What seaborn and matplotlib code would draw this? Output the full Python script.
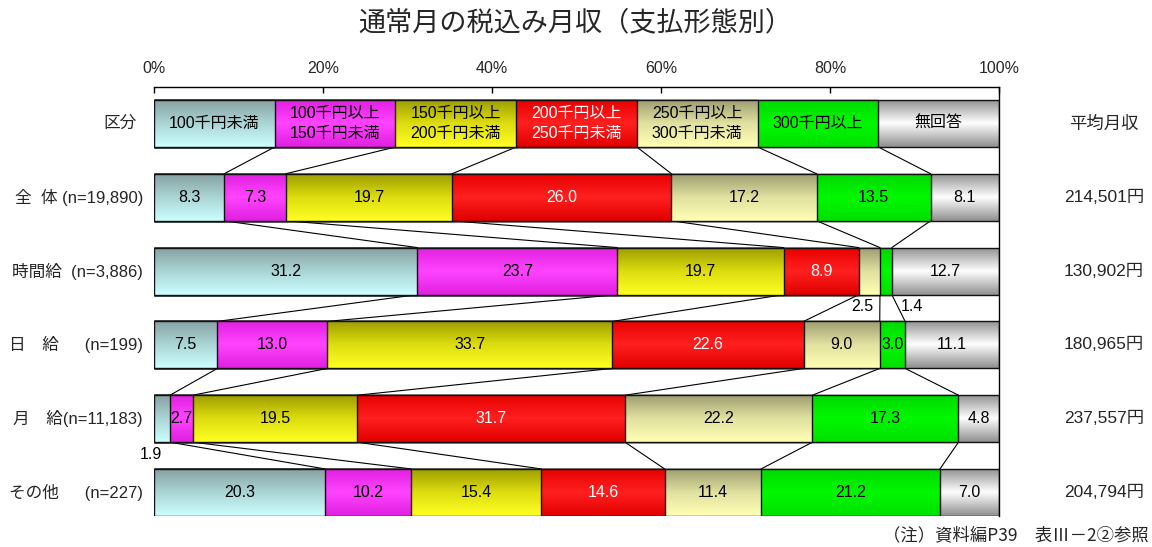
import matplotlib.pyplot as plt
import seaborn as sns
import numpy as np
import pandas as pd
from matplotlib.colors import LinearSegmentedColormap

# --- datos ---
categories = ['100千円未満', '100千円以上\n150千円未満', '150千円以上\n200千円未満',
              '200千円以上\n250千円未満', '250千円以上\n300千円未満', '300千円以上', '無回答']
groups = ['全  体 (n=19,890)', '時間給  (n=3,886)', '日　給　  (n=199)',
          '月　給(n=11,183)', 'その他　  (n=227)']
v_all = [8.3, 7.3, 19.7, 26.0, 17.2, 13.5, 8.1]
v_hourly = [31.2, 23.7, 19.7, 8.9, 2.5, 1.4, 12.7]
v_daily = [7.5, 13.0, 33.7, 22.6, 9.0, 3.0, 11.1]
v_monthly = [1.9, 2.7, 19.5, 31.7, 22.2, 17.3, 4.8]
v_other = [20.3, 10.2, 15.4, 14.6, 11.4, 21.2, 7.0]
avg_income = ['214,501円', '130,902円', '180,965円', '237,557円', '204,794円']
x_ticks = [0, 20, 40, 60, 80, 100]

# gradientes (arriba -> abajo) de cada categoría
gradients = [
    ['#86a0a0', '#aad4d4', '#ccffff'],
    ['#e020e0', '#ff44ff', '#e020e0'],
    ['#9c9c00', '#dcdc10', '#ffff22'],
    ['#e80000', '#ff2020', '#e00000'],
    ['#9c9c70', '#e0e0a0', '#ffffb4'],
    ['#00d800', '#00f800', '#00e000'],
    ['#909090', '#ffffff', '#909090'],
]
label_colors = ['black', 'black', 'black', 'white', 'black', 'black', 'black']

# etiquetas fuera de la barra: (fila, segmento) -> desplazamiento x en %
outside = {(2, 4): -0.8, (2, 5): 3.1, (4, 0): -1.3}

sns.set_style('white')
plt.rcParams['font.family'] = ['Liberation Sans', 'Noto Sans CJK JP', 'DejaVu Sans']

rows = ['区分'] + groups
values = np.array([v_all, v_hourly, v_daily, v_monthly, v_other])
shares = np.vstack([np.full(7, 100 / 7), values / values.sum(axis=1, keepdims=True) * 100])
cum = shares.cumsum(axis=1)

fig = plt.figure(figsize=(11.52, 5.47), dpi=100)
ax = fig.add_axes([154 / 1152, 1 - 516 / 547, 845 / 1152, (516 - 87) / 547])

h = 0.637
z = 2
for k in reversed(range(7)):
    df_k = pd.DataFrame({'row': rows, 'cum': cum[:, k]})
    n_before = len(ax.patches)
    sns.barplot(data=df_k, x='cum', y='row', orient='h', order=rows,
                color='white', width=h, errorbar=None, ax=ax)
    cmap = LinearSegmentedColormap.from_list(f'g{k}', gradients[k])
    img = cmap(np.linspace(0, 1, 64))[:, None, :3]
    for p in ax.patches[n_before:]:
        p.set_facecolor('none')
        p.set_edgecolor('#111111')
        p.set_linewidth(1.0)
        p.set_zorder(z + 1)
        x0, y0, w, hh = p.get_x(), p.get_y(), p.get_width(), p.get_height()
        im = ax.imshow(img, extent=(x0, x0 + w, y0 + hh, y0), origin='upper',
                       aspect='auto', interpolation='bilinear', zorder=z)
        im.set_clip_path(p)
    z += 2

# líneas de conexión entre filas
for r in range(len(rows) - 1):
    for k in range(6):
        ax.plot([cum[r, k], cum[r + 1, k]], [r + h / 2, r + 1 - h / 2],
                color='black', lw=0.8, zorder=1)

# textos de la cabecera
for k in range(7):
    ax.text(cum[0, k] - shares[0, k] / 2, 0, categories[k], ha='center', va='center',
            fontsize=11.5, color=label_colors[k], linespacing=1.35, zorder=50)

# valores de cada segmento
for r in range(1, len(rows)):
    for k in range(7):
        val = values[r - 1, k]
        xc = cum[r, k] - shares[r, k] / 2
        if (r, k) in outside:
            ax.text(xc + outside[(r, k)], r + 0.48, f'{val:.1f}', ha='center', va='center',
                    fontsize=11.5, color='black', zorder=50)
        else:
            ax.text(xc, r, f'{val:.1f}', ha='center', va='center',
                    fontsize=11.5, color=label_colors[k], zorder=50)

# etiquetas izquierda y derecha
ytr = ax.get_yaxis_transform()
ax.text(-0.02, 0, '区分', transform=ytr, ha='right', va='center', fontsize=12)
for r, g in enumerate(groups, start=1):
    ax.text(-0.013, r, g, transform=ytr, ha='right', va='center', fontsize=12)
ax.text(1.124, 0, '平均月収', transform=ytr, ha='center', va='center', fontsize=12.5)
for r, a in enumerate(avg_income, start=1):
    ax.text(1.124, r, a, transform=ytr, ha='center', va='center', fontsize=12.5)

# ejes
ax.set_xlim(0, 100)
ax.set_ylim(5 + h / 2, -h / 2 - 13 / 73.8)
ax.xaxis.tick_top()
ax.set_xticks(x_ticks)
ax.set_xticklabels([f'{t}%' for t in x_ticks], fontsize=11.5)
ax.tick_params(axis='x', direction='in', length=4.5, width=1, color='black', pad=8, top=True, bottom=False)
ax.set_yticks([])
ax.set_xlabel('')
ax.set_ylabel('')
for side in ['left', 'bottom']:
    ax.spines[side].set_visible(False)
for side in ['top', 'right']:
    ax.spines[side].set_color('black')
    ax.spines[side].set_linewidth(1)

fig.text(575 / 1152, 1 - 23 / 547, '通常月の税込み月収（支払形態別）', ha='center', va='center',
         fontsize=19.5)
fig.text(1149 / 1152, 1 - 535 / 547, '（注）資料編P39　表Ⅲ－2②参照', ha='right', va='center',
         fontsize=12.5, family=['Noto Sans CJK JP', 'DejaVu Sans'])

fig.savefig('out.png', dpi=100)
